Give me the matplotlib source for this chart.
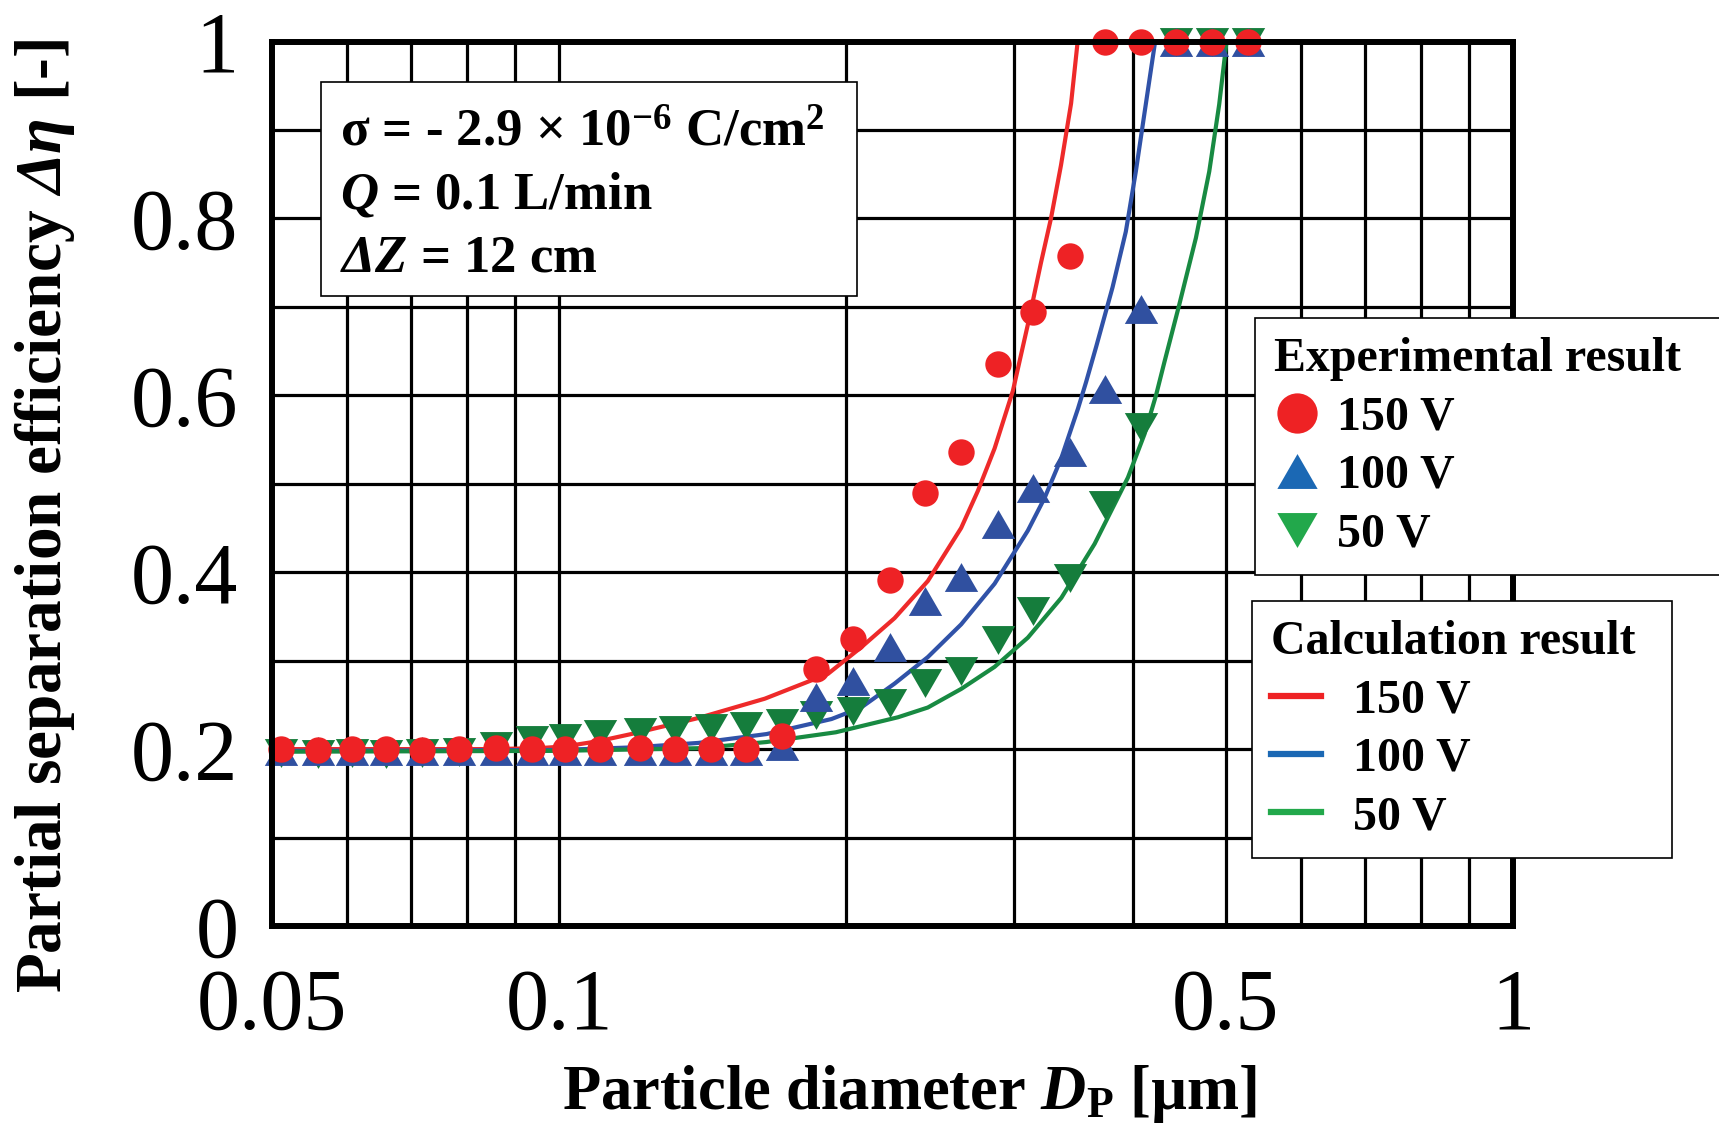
import matplotlib

matplotlib.use("Agg")
import matplotlib.pyplot as plt
from matplotlib.lines import Line2D
from matplotlib.patches import Rectangle

plt.rcParams.update(
    {
        "font.family": ["Liberation Serif", "DejaVu Serif"],
        "mathtext.fontset": "custom",
        "mathtext.rm": "Liberation Serif:bold",
        "mathtext.it": "Liberation Serif:bold:italic",
        "mathtext.bf": "Liberation Serif:bold",
        "mathtext.sf": "Liberation Serif:bold:italic",
    }
)

# measured diameters [um] (same for all three voltages)
diam = [0.0511, 0.0559, 0.0607, 0.0658, 0.0719, 0.0786, 0.0858, 0.0937, 0.1015, 0.1104,
        0.1215, 0.1322, 0.1442, 0.1571, 0.1712, 0.1861, 0.2033, 0.2222, 0.2420, 0.2641,
        0.2882, 0.3141, 0.3429, 0.3737, 0.4073, 0.4438, 0.4840, 0.5280]
exp_150 = [0.200, 0.199, 0.200, 0.200, 0.199, 0.200, 0.201, 0.200, 0.200, 0.200,
           0.201, 0.200, 0.200, 0.200, 0.215, 0.290, 0.325, 0.391, 0.489, 0.536,
           0.635, 0.694, 0.757, 1.000, 1.000, 1.000, 1.000, 1.000]
exp_100 = [0.198, 0.198, 0.198, 0.198, 0.198, 0.198, 0.198, 0.198, 0.198, 0.198,
           0.198, 0.198, 0.198, 0.198, 0.203, 0.259, 0.277, 0.315, 0.367, 0.395,
           0.455, 0.495, 0.536, 0.607, 0.698, 1.000, 1.000, 1.000]
exp_50 = [0.196, 0.195, 0.196, 0.195, 0.196, 0.197, 0.204, 0.210, 0.213, 0.217,
          0.219, 0.222, 0.224, 0.226, 0.229, 0.238, 0.243, 0.252, 0.275, 0.288,
          0.323, 0.356, 0.393, 0.476, 0.564, 1.000, 1.000, 1.000]

# calculated curves
calc_150_d = [0.0500, 0.0700, 0.0850, 0.0950, 0.1014, 0.1100, 0.1190, 0.1398, 0.1643,
              0.1913, 0.2073, 0.2247, 0.2435, 0.2639, 0.2748, 0.2861, 0.2990, 0.3100,
              0.3200, 0.3278, 0.3358, 0.3441, 0.3496]
calc_150 = [0.200, 0.200, 0.200, 0.201, 0.203, 0.209, 0.217, 0.235, 0.257,
            0.285, 0.315, 0.348, 0.390, 0.450, 0.492, 0.540, 0.605, 0.680,
            0.750, 0.800, 0.860, 0.930, 1.000]
calc_100_d = [0.0500, 0.1000, 0.1200, 0.1400, 0.1650, 0.1930, 0.2073, 0.2247, 0.2435,
              0.2639, 0.2861, 0.3100, 0.3228, 0.3361, 0.3499, 0.3568, 0.3656, 0.3803,
              0.3927, 0.4023, 0.4121, 0.4215]
calc_100 = [0.198, 0.199, 0.202, 0.207, 0.217, 0.234, 0.247, 0.274, 0.304,
            0.341, 0.387, 0.447, 0.484, 0.529, 0.585, 0.615, 0.655, 0.722,
            0.785, 0.853, 0.929, 1.000]
calc_50_d = [0.0500, 0.1000, 0.1400, 0.1650, 0.1950, 0.2266, 0.2435, 0.2639, 0.2861,
             0.3100, 0.3361, 0.3642, 0.3947, 0.4108, 0.4224, 0.4309, 0.4469, 0.4651,
             0.4803, 0.4920, 0.5008]
calc_50 = [0.197, 0.198, 0.201, 0.208, 0.219, 0.236, 0.247, 0.268, 0.293,
           0.326, 0.371, 0.432, 0.507, 0.556, 0.600, 0.637, 0.703, 0.778,
           0.853, 0.929, 1.000]

x_grid = [0.05, 0.06, 0.07, 0.08, 0.09, 0.1, 0.2, 0.3, 0.4, 0.5, 0.6, 0.7, 0.8, 0.9, 1.0]
x_labels = {0.05: "0.05", 0.1: "0.1", 0.5: "0.5", 1.0: "1"}
y_major = [0, 0.2, 0.4, 0.6, 0.8, 1.0]
y_labels = ["0", "0.2", "0.4", "0.6", "0.8", "1"]
y_minor = [0.1, 0.3, 0.5, 0.7, 0.9]

RED, BLUE, GREEN = "#ee2225", "#3050a0", "#157d3c"
RED_L, BLUE_L, GREEN_L = "#ee2a2a", "#3052a8", "#188a42"
LEG_RED, LEG_BLUE, LEG_GREEN = "#ee2224", "#1b68b4", "#22a84b"

TRI_UP = [(-1, -0.866), (1, -0.866), (0, 0.866)]
TRI_DN = [(-1, 0.866), (1, 0.866), (0, -0.866)]

fig = plt.figure(figsize=(17.19, 11.25), dpi=100)
ax = fig.add_axes([0.1582, 0.1769, 0.7220, 0.7862])
ax.set_xscale("log")
ax.set_xlim(0.05, 1)
ax.set_ylim(0, 1)

ax.set_xticks(x_grid, [x_labels.get(v, "") for v in x_grid])
ax.xaxis.set_minor_locator(matplotlib.ticker.NullLocator())
ax.set_yticks(y_major, y_labels)
ax.set_yticks(y_minor, minor=True)
ax.tick_params(which="both", length=0)
ax.tick_params(axis="x", labelsize=62, pad=30)
ax.tick_params(axis="y", labelsize=62, pad=24)
ax.grid(which="both", color="black", linewidth=2.3, zorder=1)
ax.set_axisbelow(True)
for s in ax.spines.values():
    s.set_linewidth(4.3)
    s.set_zorder(10)

ax.plot(calc_150_d, calc_150, color=RED_L, lw=3, zorder=3)
ax.plot(calc_100_d, calc_100, color=BLUE_L, lw=3, zorder=3)
ax.plot(calc_50_d, calc_50, color=GREEN_L, lw=3, zorder=3)

ax.plot(diam, exp_50, ls="none", marker=TRI_DN, ms=24, color=GREEN, mew=0, zorder=4, clip_on=False)
ax.plot(diam, exp_100, ls="none", marker=TRI_UP, ms=24, color=BLUE, mew=0, zorder=4.5, clip_on=False)
ax.plot(diam, exp_150, ls="none", marker="o", ms=19, color=RED, mew=0, zorder=5, clip_on=False)

ax.set_xlabel(r"Particle diameter $D_{\mathrm{P}}$ [µm]", fontsize=45, fontweight="bold")
ax.xaxis.set_label_coords(0.514, -0.155)
ax.set_ylabel(r"Partial separation efficiency $\mathsf{\Delta\eta}$ [-]", fontsize=47, fontweight="bold")
ax.yaxis.set_label_coords(-0.157, 0.464)

# condition box
fig.add_artist(Rectangle((0.1867, 0.7369), 0.3118, 0.1902, transform=fig.transFigure,
                         facecolor="white", edgecolor="black", linewidth=1.2, zorder=20))
cond = [
    r"σ = - 2.9 × 10$^{-6}$ C/cm$^{2}$",
    r"$Q$ = 0.1 L/min",
    r"$\mathsf{\Delta Z}$ = 12 cm",
]
for txt, yb in zip(cond, [0.8702, 0.8151, 0.7591]):
    fig.text(0.1978, yb, txt, fontsize=38, fontweight="bold", va="baseline", ha="left", zorder=21)

leg_kw = dict(
    loc="upper left",
    mode="expand",
    borderaxespad=0,
    title_fontproperties={"size": 34.5, "weight": "bold"},
    prop={"size": 34.5, "weight": "bold"},
    frameon=True,
    fancybox=False,
    framealpha=1,
    edgecolor="black",
    borderpad=0.4,
    labelspacing=0.3,
    alignment="left",
)
exp_handles = [
    Line2D([], [], ls="none", marker="o", ms=29, mew=0, color=LEG_RED),
    Line2D([], [], ls="none", marker=TRI_UP, ms=29, mew=0, color=LEG_BLUE),
    Line2D([], [], ls="none", marker=TRI_DN, ms=29, mew=0, color=LEG_GREEN),
]
leg1 = fig.legend(exp_handles, ["150 V", "100 V", "50 V"], title="Experimental result",
                  bbox_to_anchor=(0.7301, 0.4173, 0.2850, 0.3000),
                  handlelength=0.95, handletextpad=0.35, **leg_kw)
leg1.get_frame().set_linewidth(1.2)
leg1.set_zorder(20)

calc_handles = [
    Line2D([], [], color=LEG_RED, lw=4.5),
    Line2D([], [], color=LEG_BLUE, lw=4.5),
    Line2D([], [], color=LEG_GREEN, lw=4.5),
]
leg2 = fig.legend(calc_handles, ["150 V", "100 V", "50 V"], title="Calculation result",
                  bbox_to_anchor=(0.7283, 0.2000, 0.2443, 0.2658),
                  handlelength=1.05, handletextpad=0.65, **leg_kw)
leg2.get_frame().set_linewidth(1.2)
leg2.set_zorder(20)

fig.savefig("out.png", dpi=100, facecolor="white")
